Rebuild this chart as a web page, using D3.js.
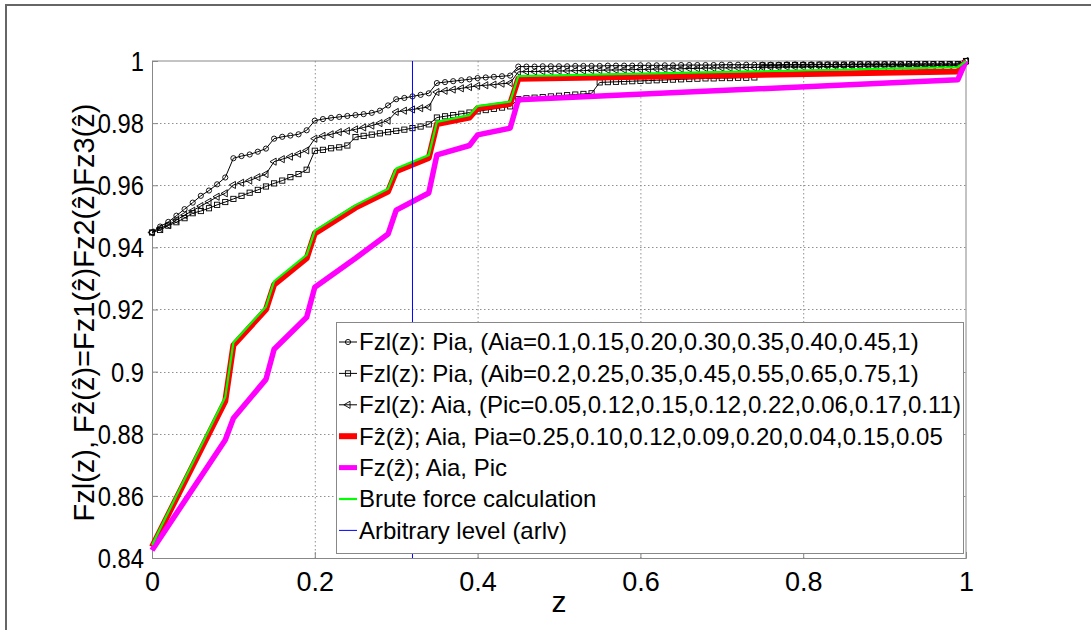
<!DOCTYPE html>
<html><head><meta charset="utf-8">
<script src="https://cdn.jsdelivr.net/npm/d3@7"></script>
<style>
body{margin:0;background:#fff;}
text{font-family:"Liberation Sans",Arial,sans-serif;fill:#000;}
</style></head>
<body><svg id="c" width="1091" height="630"></svg>
<script>
// ---------------- data ----------------
const zSteps = [0,0.01,0.02,0.03,0.04,0.05,0.06,0.07,0.08,0.09,
0.10,0.11,0.12,0.13,0.14,0.15,0.16,0.17,0.18,0.19,
0.20,0.21,0.22,0.23,0.24,0.25,0.26,0.27,0.28,0.29,
0.30,0.31,0.32,0.33,0.34,0.35,0.36,0.37,0.38,0.39,
0.40,0.41,0.42,0.43,0.44,0.45,0.46,0.47,0.48,0.49,
0.50,0.51,0.52,0.53,0.54,0.55,0.56,0.57,0.58,0.59,
0.60,0.61,0.62,0.63,0.64,0.65,0.66,0.67,0.68,0.69,
0.70,0.71,0.72,0.73,0.74,0.75,0.76,0.77,0.78,0.79,
0.80,0.81,0.82,0.83,0.84,0.85,0.86,0.87,0.88,0.89,
0.90,0.91,0.92,0.93,0.94,0.95,0.96,0.97,0.98,0.99,1.00];

// Fzl(z): Pia, Aia  (circles)
const fzlAia = [0.9448,0.9467,0.9482,0.9502,0.9523,0.9544,0.9566,0.9583,0.9603,0.9625,
0.9687,0.9694,0.9699,0.9708,0.9718,0.9750,0.9756,0.9760,0.9764,0.9777,
0.9808,0.9813,0.9817,0.9820,0.9823,0.9826,0.9829,0.9833,0.9840,0.9857,
0.9877,0.9881,0.9886,0.9891,0.9896,0.9929,0.9932,0.9935,0.9938,0.9941,
0.9945,0.9947,0.9949,0.9951,0.9953,0.9982,0.9982,0.9982,0.9983,0.9983,
0.9983,0.9983,0.9984,0.9984,0.9984,0.9984,0.9985,0.9985,0.9985,0.9985,
0.9986,0.9986,0.9986,0.9986,0.9986,0.9987,0.9987,0.9987,0.9987,0.9987,
0.9988,0.9988,0.9988,0.9988,0.9988,0.9988,0.9988,0.9988,0.9989,0.9989,
0.9989,0.9989,0.9989,0.9989,0.9989,0.9989,0.9990,0.9990,0.9990,0.9990,
0.9990,0.9990,0.9990,0.9990,0.9990,0.9990,0.9990,0.9990,0.9990,0.9990,1.0000];

// Fzl(z): Pia, Aib  (squares)
const fzlAib = [0.9448,0.9456,0.9470,0.9481,0.9494,0.9510,0.9517,0.9526,0.9537,0.9546,
0.9556,0.9566,0.9576,0.9585,0.9596,0.9606,0.9615,0.9626,0.9636,0.9650,
0.9711,0.9714,0.9719,0.9722,0.9728,0.9755,0.9759,0.9763,0.9767,0.9771,
0.9775,0.9779,0.9784,0.9789,0.9796,0.9818,0.9822,0.9826,0.9830,0.9834,
0.9838,0.9842,0.9846,0.9850,0.9854,0.9877,0.9880,0.9882,0.9884,0.9886,
0.9888,0.9890,0.9892,0.9894,0.9896,0.9931,0.9932,0.9933,0.9934,0.9935,
0.9936,0.9937,0.9938,0.9939,0.9940,0.9941,0.9942,0.9943,0.9944,0.9944,
0.9945,0.9945,0.9946,0.9946,0.9947,0.9986,0.9986,0.9986,0.9987,0.9987,
0.9987,0.9987,0.9988,0.9988,0.9988,0.9988,0.9988,0.9989,0.9989,0.9989,
0.9989,0.9989,0.9989,0.9990,0.9990,0.9990,0.9990,0.9990,0.9990,0.9990,1.0000];

// Fzl(z): Aia, Pic  (triangles)
const fzlPic = [0.9448,0.9462,0.9472,0.9488,0.9504,0.9518,0.9533,0.9547,0.9563,0.9574,
0.9601,0.9608,0.9615,0.9626,0.9636,0.9676,0.9684,0.9692,0.9701,0.9712,
0.9750,0.9759,0.9764,0.9771,0.9775,0.9780,0.9786,0.9792,0.9800,0.9808,
0.9836,0.9840,0.9844,0.9848,0.9852,0.9900,0.9904,0.9908,0.9912,0.9916,
0.9920,0.9922,0.9924,0.9927,0.9929,0.9965,0.9966,0.9966,0.9967,0.9967,
0.9968,0.9968,0.9969,0.9969,0.9970,0.9970,0.9971,0.9971,0.9972,0.9972,
0.9973,0.9973,0.9974,0.9974,0.9975,0.9975,0.9976,0.9976,0.9977,0.9977,
0.9978,0.9978,0.9978,0.9979,0.9979,0.9980,0.9980,0.9980,0.9981,0.9981,
0.9981,0.9982,0.9982,0.9982,0.9983,0.9983,0.9983,0.9983,0.9984,0.9984,
0.9984,0.9984,0.9985,0.9985,0.9985,0.9985,0.9985,0.9986,0.9986,0.9986,1.0000];

// thick curves: vertices
const zKnots = [0,0.09,0.10,0.14,0.15,0.19,0.20,0.25,0.29,0.30,0.34,0.35,0.39,0.40,0.44,0.45,0.99,1.0];
const fzPia   = [0.8436,0.8905,0.9085,0.9200,0.9280,0.9365,0.9445,0.9528,0.9580,0.9645,0.9688,0.9797,0.9818,0.9848,0.9862,0.9943,0.9966,1.0];
const fzPic   = [0.8425,0.8780,0.8850,0.8975,0.9072,0.9175,0.9272,0.9365,0.9443,0.9520,0.9575,0.9698,0.9728,0.9762,0.9784,0.9875,0.9940,1.0];
const bruteForce = [0.8442,0.8918,0.9094,0.9209,0.9291,0.9376,0.9454,0.9536,0.9589,0.9654,0.9697,0.9804,0.9826,0.9855,0.9869,0.9951,0.9980,1.0];
const arlv = 0.32;

const xTicks = [0,0.2,0.4,0.6,0.8,1];
const yTicks = [0.84,0.86,0.88,0.9,0.92,0.94,0.96,0.98,1];
const legendLabels = [
 "Fzl(z): Pia, (Aia=0.1,0.15,0.20,0.30,0.35,0.40,0.45,1)",
 "Fzl(z): Pia, (Aib=0.2,0.25,0.35,0.45,0.55,0.65,0.75,1)",
 "Fzl(z): Aia, (Pic=0.05,0.12,0.15,0.12,0.22,0.06,0.17,0.11)",
 "F\u1e91(\u1e91); Aia, Pia=0.25,0.10,0.12,0.09,0.20,0.04,0.15,0.05",
 "Fz(\u1e91); Aia, Pic",
 "Brute force calculation",
 "Arbitrary level (arlv)"];
const xLabel = "z";
const yLabel = "Fzl(z),  F\u1e91(\u1e91)=Fz1(\u1e91)Fz2(\u1e91)Fz3(\u1e91)";

// ---------------- drawing ----------------
const svg = d3.select("#c");
const L=152, R=966, T=61, B=558;
const x = d3.scaleLinear().domain([0,1]).range([L,R]);
const y = d3.scaleLinear().domain([0.84,1]).range([B,T]);

// outer frame (top & left)
svg.append("line").attr("x1",5).attr("x2",1091).attr("y1",5).attr("y2",5).attr("stroke","#666").attr("stroke-width",2);
svg.append("line").attr("x1",6).attr("x2",6).attr("y1",4).attr("y2",630).attr("stroke","#666").attr("stroke-width",2);

// grid
const grid = svg.append("g").attr("stroke","#909090").attr("stroke-width",1).attr("stroke-dasharray","1.5,2.5");
xTicks.slice(1,-1).forEach(t=>grid.append("line").attr("x1",x(t)+0.5).attr("x2",x(t)+0.5).attr("y1",T).attr("y2",B));
yTicks.slice(1,-1).forEach(t=>grid.append("line").attr("x1",L).attr("x2",R).attr("y1",Math.round(y(t))+0.5).attr("y2",Math.round(y(t))+0.5));

// axes
const fmt = d3.format("~g");
const xa = svg.append("g").attr("transform",`translate(0,${B})`)
  .call(d3.axisBottom(x).tickValues(xTicks).tickFormat(fmt).tickSize(-6).tickPadding(14));
const ya = svg.append("g").attr("transform",`translate(${L},0)`)
  .call(d3.axisLeft(y).tickValues(yTicks).tickFormat(fmt).tickSize(-6).tickPadding(0));
[xa,ya].forEach(a=>{
  a.selectAll(".domain").attr("stroke","#888");
  a.selectAll(".tick line").attr("stroke","#888");
  a.selectAll("text").style("font-size","27px").style("font-family","'Liberation Sans',Arial,sans-serif").attr("fill","#000");
});
xa.selectAll("text").attr("dy","0.71em");
ya.selectAll("text").attr("dy","0.35em").attr("x",0).attr("transform","translate(-8,0) scale(0.88,1)");
// box top/right
svg.append("line").attr("x1",L).attr("x2",R).attr("y1",T).attr("y2",T).attr("stroke","#888");
svg.append("line").attr("x1",R).attr("x2",R).attr("y1",T).attr("y2",B).attr("stroke","#888");

// axis labels
svg.append("text").attr("x",(L+R)/2).attr("y",612).attr("text-anchor","middle").style("font-size","30px").text(xLabel);
svg.append("text").attr("transform",`translate(94,${(T+B)/2+3}) rotate(-90)`).attr("text-anchor","middle").style("font-size","29px").text(yLabel);

// marker series
const lineGen = (xs,ys)=>d3.line().x((d,i)=>x(xs[i])).y(d=>y(d))(ys);
const blk = svg.append("g");
const triSym = d3.symbol().type(d3.symbolTriangle).size(22);
function markerSeries(vals, kind){
  const g = blk.append("g");
  g.append("path").attr("d",lineGen(zSteps,vals)).attr("fill","none").attr("stroke","#000").attr("stroke-width",1);
  vals.forEach((v,i)=>drawMarker(g,kind,x(zSteps[i]),y(v)));
}
function drawMarker(g,kind,cx,cy){
  if(kind==="o") g.append("circle").attr("cx",cx).attr("cy",cy).attr("r",2.6).attr("fill","none").attr("stroke","#000").attr("stroke-width",0.9);
  else if(kind==="s") g.append("rect").attr("x",cx-2.6).attr("y",cy-2.6).attr("width",5.2).attr("height",5.2).attr("fill","none").attr("stroke","#000").attr("stroke-width",0.9);
  else g.append("path").attr("d",triSym()).attr("transform",`translate(${cx},${cy}) rotate(-90)`).attr("fill","none").attr("stroke","#000").attr("stroke-width",0.9);
}
markerSeries(fzlAia,"o");
markerSeries(fzlAib,"s");
markerSeries(fzlPic,"<");

// thick curves
svg.append("path").attr("d",lineGen(zKnots,fzPia)).attr("fill","none").attr("stroke","#ff0000").attr("stroke-width",6).attr("stroke-linejoin","round");
svg.append("path").attr("d",lineGen(zKnots,fzPic)).attr("fill","none").attr("stroke","#ff00ff").attr("stroke-width",5.5).attr("stroke-linejoin","round");
svg.append("path").attr("d",lineGen(zKnots,bruteForce)).attr("fill","none").attr("stroke","#00ff00").attr("stroke-width",2.2).attr("stroke-linejoin","round");
svg.append("line").attr("x1",x(arlv)).attr("x2",x(arlv)).attr("y1",y(0.84)).attr("y2",y(1)).attr("stroke","#0000ff").attr("stroke-width",1);

// legend
const lg = svg.append("g");
lg.append("rect").attr("x",336.5).attr("y",322.5).attr("width",627).attr("height",231).attr("fill","#fff").attr("stroke","#888");
const styles = [
 {k:"o",c:"#000",w:1},{k:"s",c:"#000",w:1},{k:"<",c:"#000",w:1},
 {c:"#ff0000",w:6},{c:"#ff00ff",w:5},{c:"#00ff00",w:2.2},{c:"#0000ff",w:1}];
legendLabels.forEach((lab,i)=>{
  const cy = 342 + i*31.4;
  const st = styles[i];
  lg.append("line").attr("x1",339).attr("x2",357).attr("y1",cy).attr("y2",cy).attr("stroke",st.c).attr("stroke-width",st.w);
  if(st.k) drawMarker(lg,st.k,348,cy);
  lg.append("text").attr("x",359).attr("y",cy).attr("dy","0.35em").style("font-size","24px").text(lab);
});
</script></body></html>
